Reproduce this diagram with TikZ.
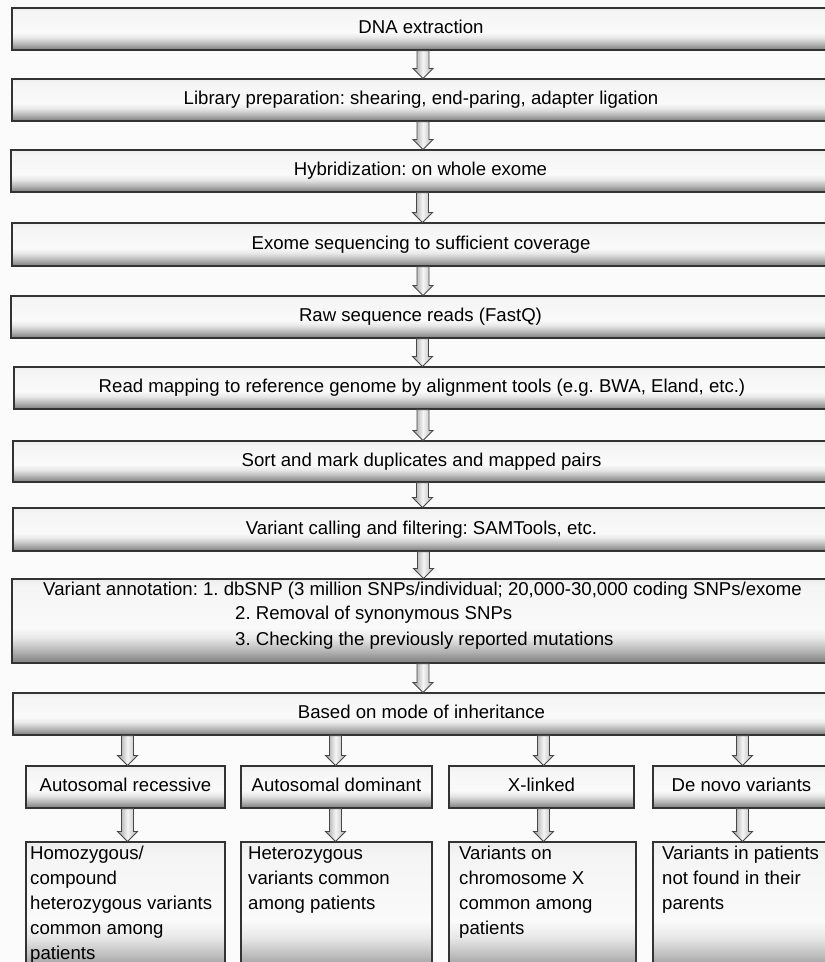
\documentclass[tikz,border=0pt]{standalone}
\usepackage{fontspec}
\setmainfont{Liberation Sans}
\usetikzlibrary{calc}
\frenchspacing
\definecolor{linec}{gray}{0.2}
\definecolor{arrc}{gray}{0.28}
\definecolor{bgc}{gray}{0.985}
\pgfdeclareverticalshading{boxsh}{100bp}{color(0bp)=(black!45); color(25bp)=(black!45); color(27bp)=(black!45); color(33bp)=(black!27); color(40bp)=(black!9); color(46bp)=(black!2); color(70bp)=(black!4); color(75bp)=(black!7); color(100bp)=(black!7)}
\begin{document}
\begin{tikzpicture}[x=1pt,y=-1pt,font=\fontsize{18.6}{25}\selectfont\frenchspacing,
  box/.style={draw=linec, line width=1.1pt, shading=boxsh, inner sep=0pt, text height=13.4pt, text depth=4pt},
  txt/.style={inner sep=0pt, align=left},
  blk/.style={draw=arrc, line width=0.9pt, left color=black!40, right color=black!30, middle color=black!4,
    to path={let \p1=(\tikztostart), \p2=(\tikztotarget) in
      (\x1-6pt,\y1) -- (\x1+6pt,\y1) -- (\x1+6pt,\y2+10pt) -- (\x1+10pt,\y2+10pt) -- (\x1,\y2)
      -- (\x1-10pt,\y2+10pt) -- (\x1-6pt,\y2+10pt) -- cycle}}]
\useasboundingbox (0,0) rectangle (825,962);
\clip (0,0) rectangle (825,962);
\fill[bgc] (0,0) rectangle (825,962);

\node[box, minimum width=818pt, minimum height=42pt] (b1) at (421,29) {DNA extraction};
\node[box, minimum width=818pt, minimum height=42pt] (b2) at (421,100) {Library preparation: shearing, end-paring, adapter ligation};
\node[box, minimum width=819pt, minimum height=42pt] (b3) at (420.5,171) {Hybridization: on whole exome};
\node[box, minimum width=818pt, minimum height=43pt] (b4) at (421,244.5) {Exome sequencing to sufficient coverage};
\node[box, minimum width=819pt, minimum height=42pt] (b5) at (420.5,317) {Raw sequence reads (FastQ)};
\node[box, minimum width=816pt, minimum height=42pt] (b6) at (422,388) {Read mapping to reference genome by alignment tools (e.g. BWA, Eland, etc.)};
\node[box, minimum width=817pt, minimum height=41pt] (b7) at (421.5,461.5) {Sort and mark duplicates and mapped pairs};
\node[box, minimum width=817pt, minimum height=43pt] (b8) at (421.5,529.5) {Variant calling and filtering: SAMTools, etc.};
\node[box, minimum width=818pt, minimum height=84pt] (b9) at (421,621) {};
\node[txt, anchor=base] (t9a) at (422.5,595.5) {Variant annotation: 1. dbSNP (3 million SNPs/individual; 20,000-30,000 coding SNPs/exome};
\node[txt, anchor=base west] (t9b) at (235,619) {2. Removal of synonymous SNPs};
\node[txt, anchor=base west] (t9c) at (235,645) {3. Checking the previously reported mutations};
\node[box, minimum width=817pt, minimum height=42pt] (b10) at (421.5,714) {Based on mode of inheritance};

\node[box, minimum width=199pt, minimum height=42pt] (sA) at (125.5,787) {Autosomal recessive};
\node[box, minimum width=191pt, minimum height=42pt] (sB) at (336.5,787) {Autosomal dominant};
\node[box, minimum width=185pt, minimum height=42pt] (sC) at (541.5,787) {X-linked};
\node[box, minimum width=177pt, minimum height=42pt] (sD) at (741.5,787) {De novo variants};

\node[box, minimum width=199pt, minimum height=136pt] (eA) at (125.5,910) {};
\node[box, minimum width=191pt, minimum height=136pt] (eB) at (336.5,910) {};
\node[box, minimum width=187pt, minimum height=136pt] (eC) at (542.5,910) {};
\node[box, minimum width=177pt, minimum height=136pt] (eD) at (741.5,910) {};

\node[txt, anchor=north west] (tA) at (30,846) {Homozygous/\\compound\\heterozygous variants\\common among\\patients};
\node[txt, anchor=north west] (tB) at (248,846) {Heterozygous\\variants common\\among patients};
\node[txt, anchor=north west] (tC) at (459,846) {Variants on\\chromosome X\\common among\\patients};
\node[txt, anchor=north west] (tD) at (662,846) {Variants in patients\\not found in their\\parents};

\path[blk] ($(b1.south)+(2,0)$) to (b2.north);
\path[blk] ($(b2.south)+(2,0)$) to (b3.north);
\path[blk] ($(b3.south)+(2,0)$) to (b4.north);
\path[blk] ($(b4.south)+(2,0)$) to (b5.north);
\path[blk] ($(b5.south)+(2,0)$) to (b6.north);
\path[blk] ($(b6.south)+(1,0)$) to (b7.north);
\path[blk] ($(b7.south)+(1,0)$) to (b8.north);
\path[blk] ($(b8.south)+(2,0)$) to (b9.north);
\path[blk] ($(b9.south)+(2,0)$) to (b10.north);

\path[blk] ($(sA.north |- b10.south)+(2,0)$) to (sA.north);
\path[blk] ($(sB.north |- b10.south)+(-1,0)$) to (sB.north);
\path[blk] ($(sC.north |- b10.south)+(2,0)$) to (sC.north);
\path[blk] ($(sD.north |- b10.south)+(1,0)$) to (sD.north);

\path[blk] ($(sA.south)+(2,0)$) to (eA.north);
\path[blk] ($(sB.south)+(-1,0)$) to (eB.north);
\path[blk] ($(sC.south)+(2,0)$) to (eC.north);
\path[blk] ($(sD.south)+(1,0)$) to (eD.north);
\end{tikzpicture}
\end{document}
